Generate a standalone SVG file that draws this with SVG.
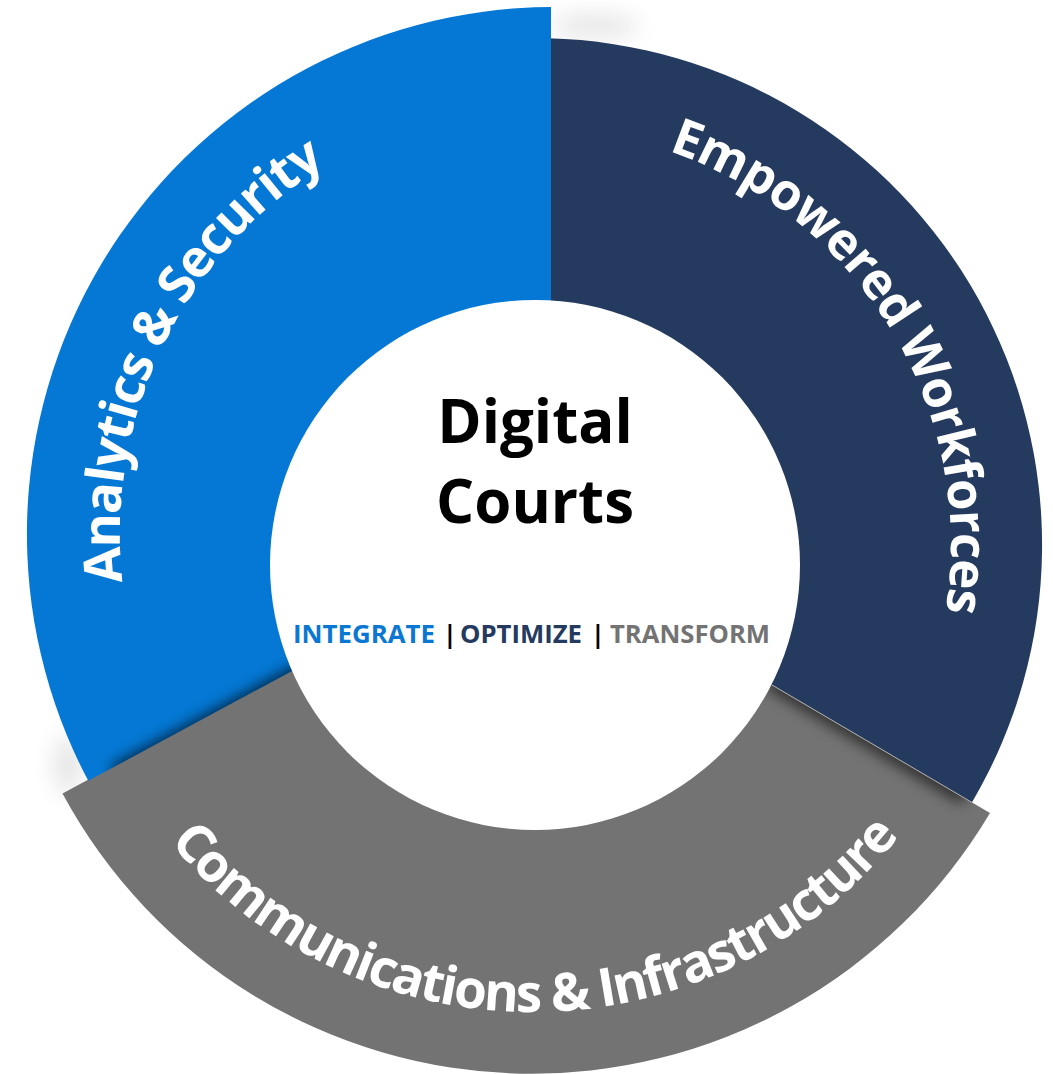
<svg xmlns="http://www.w3.org/2000/svg" width="1053" height="1074" viewBox="0 0 1053 1074">
<defs>
<style>
.lbl{font-family:"Open Sans","Noto Sans","Liberation Sans",sans-serif;font-weight:700;fill:#ffffff;font-size:51px;text-anchor:middle}
.title{font-family:"Open Sans","Noto Sans","Liberation Sans",sans-serif;font-weight:700;font-size:60px;fill:#000000;text-anchor:middle}
.tag{font-family:"Open Sans","Noto Sans","Liberation Sans",sans-serif;font-weight:700;font-size:25px}
.sh{fill:none;stroke:#000;stroke-linecap:round}
</style>
<filter id="blur7" x="-50%" y="-50%" width="200%" height="200%"><feGaussianBlur stdDeviation="7"/></filter>
<filter id="blur12" x="-50%" y="-50%" width="200%" height="200%"><feGaussianBlur stdDeviation="12"/></filter>
<path id="navyShape" d="M548,38.2 A507,507 0 0 1 971.9,802.4 L551,555.2 L548,555.2 Z"/>
<path id="blueShape" d="M551,7 A527,527 0 0 0 88.3,780.8 L551,531.2 Z"/>
<path id="grayShape" d="M62.5,793.5 A533,533 0 0 0 990,813 L551,555.2 L551,529.7 Z"/>
<clipPath id="clipNavy"><use href="#navyShape"/></clipPath>
<clipPath id="clipBlue"><use href="#blueShape"/></clipPath>
<clipPath id="clipGray"><use href="#grayShape"/></clipPath>
<path id="arcBlue" d="M174.4,744.4 A434,434 0 0 1 486.1,105.3"/>
<path id="arcNavy" d="M564,130 A416,416 0 0 1 915,714.2"/>
<path id="arcGray" d="M148.6,814.5 A471,471 0 0 0 920.2,807.8"/>
</defs>
<rect width="1053" height="1074" fill="#ffffff"/>
<g opacity="0.12" filter="url(#blur12)">
<ellipse cx="595" cy="26" rx="45" ry="10" fill="#000"/>
<ellipse cx="68" cy="765" rx="12" ry="30" fill="#000"/>
</g>
<g id="seg-communications">
<use href="#grayShape" fill="#737373"/>
</g>
<g id="seg-workforces">
<use href="#navyShape" fill="#243a5e"/>
</g>
<g id="seg-analytics">
<use href="#blueShape" fill="#0478d4"/>
</g>
<g id="shading">
<g clip-path="url(#clipNavy)"><path class="sh" d="M549,95 L549,330" stroke-width="14" opacity="0.65" filter="url(#blur7)"/></g>
<g clip-path="url(#clipBlue)"><path class="sh" d="M120,770 L300,672" stroke-width="16" opacity="0.7" filter="url(#blur7)"/></g>
<g clip-path="url(#clipGray)"><path class="sh" d="M775,684 L960,794" stroke-width="16" opacity="0.6" filter="url(#blur7)"/></g>
<path d="M772,685 L971.9,802.4" stroke="#b0b0b0" stroke-width="1" fill="none"/>
</g>
<g id="labels">
<text class="lbl" style="font-size:52px"><textPath href="#arcBlue" startOffset="50%" textLength="490" lengthAdjust="spacing">Analytics &amp; Security</textPath></text>
<text class="lbl"><textPath href="#arcNavy" startOffset="50%" textLength="585" lengthAdjust="spacing">Empowered Workforces</textPath></text>
<text class="lbl" style="font-size:53px"><textPath href="#arcGray" startOffset="50%" textLength="835" lengthAdjust="spacing">Communications &amp; Infrastructure</textPath></text>
</g>
<g id="center">
<circle cx="535" cy="565" r="265" fill="#ffffff"/>
<text class="title" x="535" y="443">Digital</text>
<text class="title" x="535" y="523">Courts</text>
<text class="tag" y="643"><tspan x="293" fill="#0a78d2" textLength="142" lengthAdjust="spacingAndGlyphs">INTEGRATE</tspan><tspan x="443" fill="#000000">|</tspan><tspan x="460" fill="#243a5e" textLength="122" lengthAdjust="spacingAndGlyphs">OPTIMIZE</tspan><tspan x="591" fill="#000000">|</tspan><tspan x="610" fill="#737373" textLength="160" lengthAdjust="spacingAndGlyphs">TRANSFORM</tspan></text>
</g>
</svg>
